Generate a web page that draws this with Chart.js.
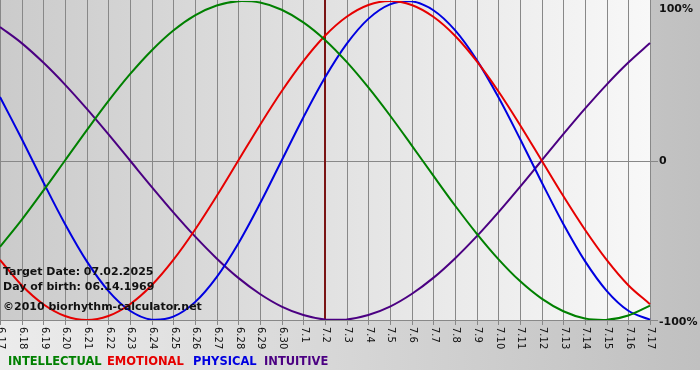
<!DOCTYPE html>
<html>
<head>
<meta charset="utf-8">
<script src="https://cdn.jsdelivr.net/npm/chart.js@4.4.1/dist/chart.umd.min.js"></script>
<style>
  html, body { margin: 0; padding: 0; background: #fff; }
  canvas { display: block; }
</style>
</head>
<body>
<canvas id="bio" width="700" height="380"></canvas>
<script>
// days shown on the chart
const dates = ['6.17', '6.18', '6.19', '6.20', '6.21', '6.22', '6.23', '6.24', '6.25', '6.26', '6.27', '6.28', '6.29', '6.30',
    '7.1', '7.2', '7.3', '7.4', '7.5', '7.6', '7.7', '7.8', '7.9', '7.10', '7.11', '7.12', '7.13', '7.14', '7.15', '7.16', '7.17'];

// cycle values in %
const intellectual = [-54.1, -37.2, -18.9, 0, 18.9, 37.2, 54.1, 69.0, 81.5, 91.0, 97.2, 99.9, 99.0, 94.5, 86.6, 75.6,
    61.8, 45.8, 28.2, 9.5, -9.5, -28.2, -45.8, -61.8, -75.6, -86.6, -94.5, -99.0, -99.9, -97.2, -91.0];
const emotional = [-62.3, -78.2, -90.1, -97.5, -100, -97.5, -90.1, -78.2, -62.3, -43.4, -22.3, 0, 22.3, 43.4, 62.3, 78.2,
    90.1, 97.5, 100, 97.5, 90.1, 78.2, 62.3, 43.4, 22.3, 0, -22.3, -43.4, -62.3, -78.2, -90.1];
const physical = [39.8, 13.6, -13.6, -39.8, -63.1, -81.7, -94.2, -99.8, -97.9, -88.8, -73.1, -52.0, -27.0, 0, 27.0, 52.0,
    73.1, 88.8, 97.9, 99.8, 94.2, 81.7, 63.1, 39.8, 13.6, -13.6, -39.8, -63.1, -81.7, -94.2, -99.8];
const intuitive = [83.7, 73.6, 61.4, 47.6, 32.5, 16.5, 0, -16.5, -32.5, -47.6, -61.4, -73.6, -83.7, -91.6, -96.9, -99.7,
    -99.7, -96.9, -91.6, -83.7, -73.6, -61.4, -47.6, -32.5, -16.5, 0, 16.5, 32.5, 47.6, 61.4, 73.6];

const yTicks = [100, 0, -100];
const yTickLabels = ['100%', '0', '-100%'];
const targetDay = '7.2';
const infoLines = ['Target Date: 07.02.2025', 'Day of birth: 06.14.1969', '©2010 biorhythm-calculator.net'];

const series = [
    { name: 'INTELLECTUAL', data: intellectual, color: '#008000', lx: 8 },
    { name: 'EMOTIONAL', data: emotional, color: '#e60000', lx: 107 },
    { name: 'PHYSICAL', data: physical, color: '#0000e0', lx: 193 },
    { name: 'INTUITIVE', data: intuitive, color: '#4b0082', lx: 264 }
];

const FONT = '"DejaVu Sans", Verdana, sans-serif';

// backgrounds, grid and all the text around the plot
const bioPlugin = {
    id: 'bioPlugin',
    beforeDatasetsDraw(chart) {
        const { ctx, chartArea: a, width } = chart;
        const xs = chart.scales.x, ys = chart.scales.y;
        ctx.save();

        // outer background
        let g = ctx.createLinearGradient(0, 0, width, 0);
        g.addColorStop(0, '#ececec');
        g.addColorStop(1, '#c0c0c0');
        ctx.fillStyle = g;
        ctx.fillRect(0, 0, width, 370);
        ctx.fillStyle = '#ffffff';
        ctx.fillRect(0, 370, width, 10);

        // plot background
        g = ctx.createLinearGradient(a.left, 0, a.right, 0);
        g.addColorStop(0, '#cbcbcb');
        g.addColorStop(1, '#f8f8f8');
        ctx.fillStyle = g;
        ctx.fillRect(a.left, 0, a.right - a.left + 1, a.bottom);

        // vertical grid + tick marks
        ctx.strokeStyle = '#888888';
        ctx.lineWidth = 1;
        dates.forEach((d, i) => {
            const px = Math.round(xs.getPixelForValue(i)) + 0.5;
            ctx.beginPath();
            ctx.moveTo(px, 0);
            ctx.lineTo(px, a.bottom + 5);
            ctx.stroke();
        });

        // zero line and bottom line
        [0, -100].forEach(v => {
            const py = Math.round(ys.getPixelForValue(v)) + 0.5;
            ctx.beginPath();
            ctx.moveTo(a.left, py);
            ctx.lineTo(a.right + 8, py);
            ctx.stroke();
        });

        // target day marker
        const tx = xs.getPixelForValue(dates.indexOf(targetDay));
        ctx.strokeStyle = '#7a1414';
        ctx.lineWidth = 2;
        ctx.beginPath();
        ctx.moveTo(tx, 0);
        ctx.lineTo(tx, a.bottom);
        ctx.stroke();

        // date labels, turned clockwise
        ctx.fillStyle = '#111111';
        ctx.font = '10px ' + FONT;
        ctx.textAlign = 'left';
        ctx.textBaseline = 'middle';
        dates.forEach((d, i) => {
            const px = xs.getPixelForValue(i);
            ctx.save();
            ctx.translate(px + 1, a.bottom + 7);
            ctx.rotate(Math.PI / 2);
            ctx.fillText(d, 0, 0);
            ctx.restore();
        });

        // right side labels
        ctx.font = 'bold 11px ' + FONT;
        yTicks.forEach((v, i) => {
            let py = ys.getPixelForValue(v);
            if (v === 100) py += 7;
            if (v === -100) py += 1;
            ctx.fillText(yTickLabels[i], a.right + 9, py + 1);
        });

        // legend line
        ctx.font = 'bold 11.5px ' + FONT;
        series.forEach(s => {
            ctx.fillStyle = s.color;
            ctx.fillText(s.name, s.lx, 362);
        });
        ctx.restore();
    },
    afterDatasetsDraw(chart) {
        const { ctx } = chart;
        ctx.save();
        ctx.fillStyle = '#111111';
        ctx.font = 'bold 11px ' + FONT;
        ctx.textAlign = 'left';
        ctx.textBaseline = 'middle';
        ctx.fillText(infoLines[0], 3, 272);
        ctx.fillText(infoLines[1], 3, 287);
        ctx.fillText(infoLines[2], 3, 307);
        ctx.restore();
    }
};

new Chart(document.getElementById('bio'), {
    type: 'line',
    data: {
        labels: dates,
        datasets: series.map(s => ({
            label: s.name,
            data: s.data,
            borderColor: s.color,
            backgroundColor: s.color,
            borderWidth: 2,
            pointRadius: 0,
            tension: 0.35,
            fill: false
        }))
    },
    options: {
        responsive: false,
        animation: false,
        layout: { padding: { left: 0, right: 50, top: 1, bottom: 60 } },
        plugins: {
            legend: { display: false },
            tooltip: { enabled: false }
        },
        scales: {
            x: { type: 'category', display: false, offset: false },
            y: { display: false, min: -100, max: 100 }
        }
    },
    plugins: [bioPlugin]
});
</script>
</body>
</html>
